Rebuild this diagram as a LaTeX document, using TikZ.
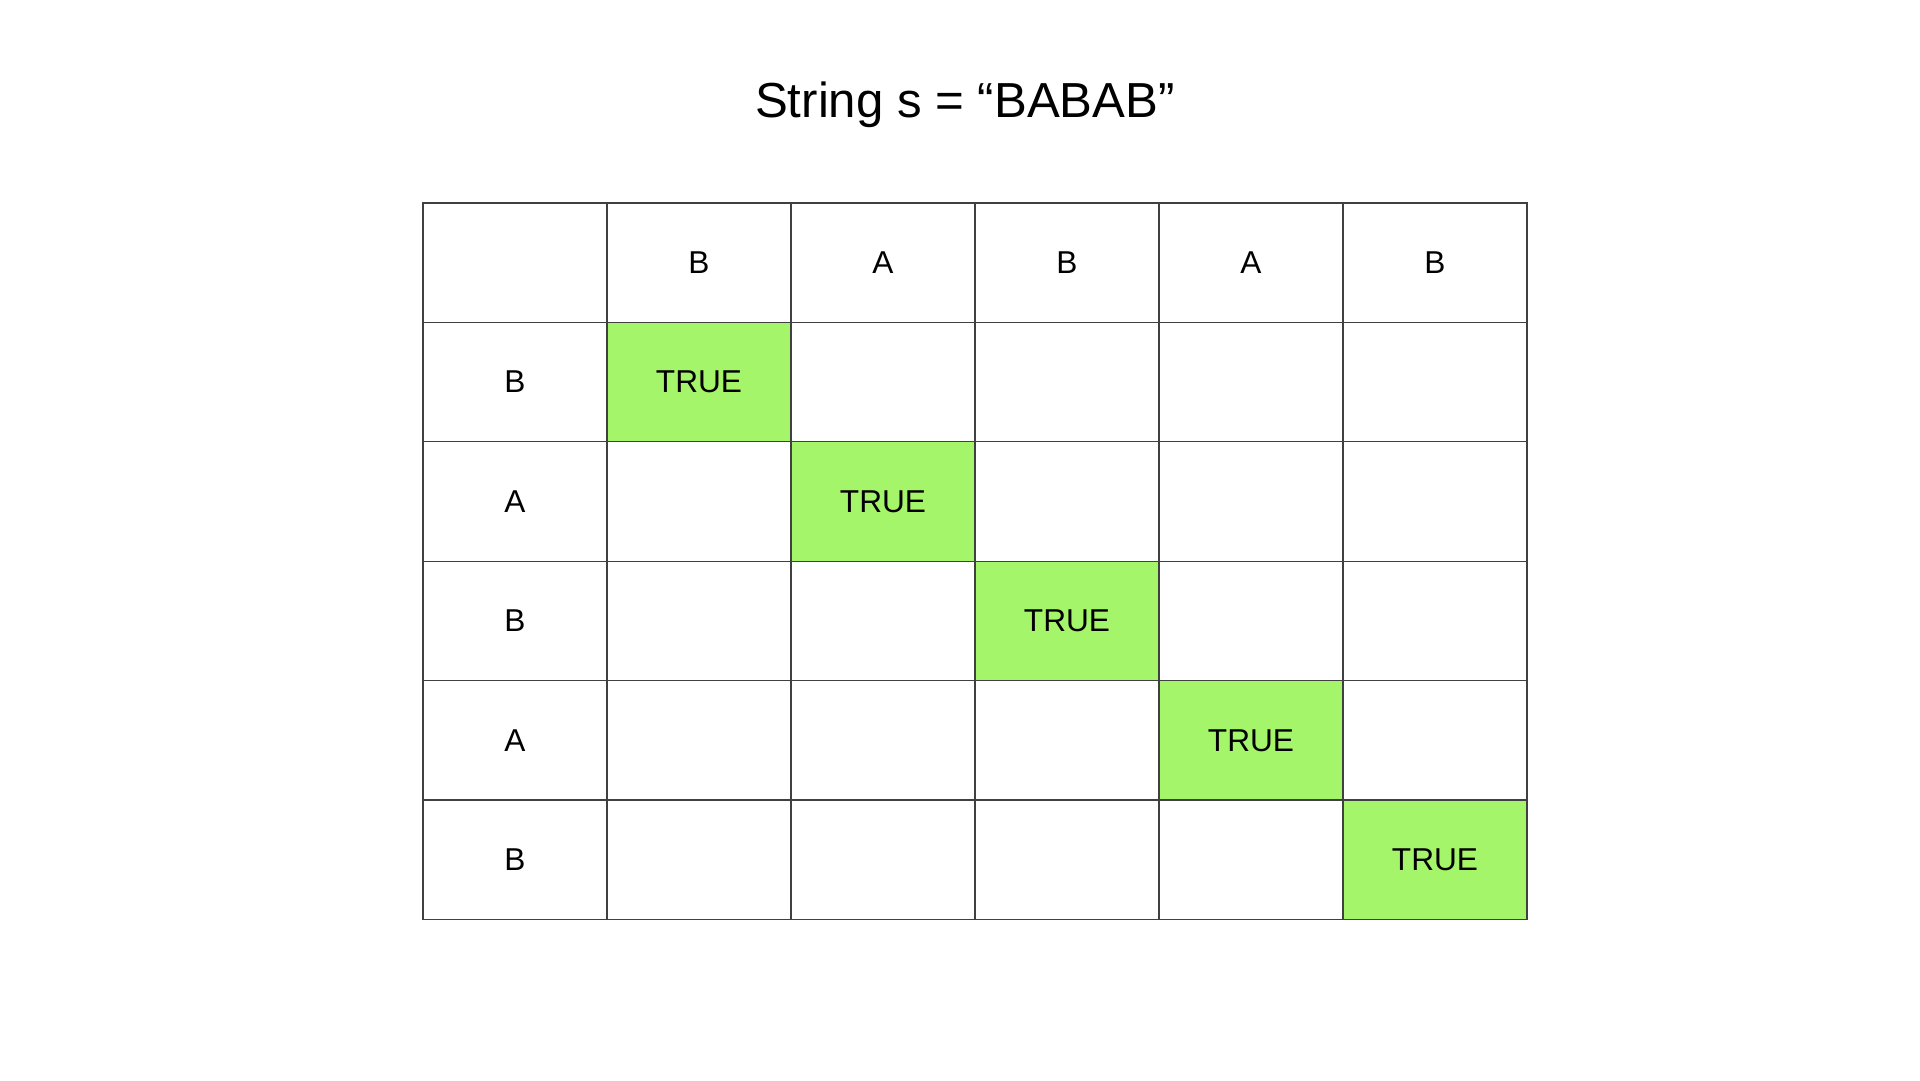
\documentclass[tikz,border=0pt]{standalone}
\usepackage{fontspec}
\setmainfont{Liberation Sans}
\definecolor{truegreen}{HTML}{A4F56A}
\begin{document}
\begin{tikzpicture}[x=0.02cm,y=-0.02cm]
\tikzstyle{cell}=[draw=black!75,line width=0.6pt,minimum width=3.68cm,minimum height=2.388cm,inner sep=0pt,font=\fontsize{18}{20}\selectfont]
\tikzstyle{hit}=[cell,fill=truegreen]
\useasboundingbox (0,0) rectangle (1920,1080);
\node (title) at (965,105) {\fontsize{28}{32}\selectfont String s = “BABAB”};
\node[cell] (c00) at (515,262.7) {};
\foreach \name/\col/\txt in {1/1/B,2/2/A,3/3/B,4/4/A,5/5/B}
	\node[cell] (c0\name) at (515+184*\col,262.7) {\txt};
\foreach \name/\row/\txt in {1/1/B,2/2/A,3/3/B,4/4/A,5/5/B}
	\node[cell] (c\name0) at (515,262.7+119.4*\row) {\txt};
\foreach \row in {1,...,5}
	\foreach \col in {1,...,5}{
		\ifnum\row=\col
			\node[hit] (c\row\col) at (515+184*\col,262.7+119.4*\row) {TRUE};
		\else
			\node[cell] (c\row\col) at (515+184*\col,262.7+119.4*\row) {};
		\fi
	}
\end{tikzpicture}
\end{document}
